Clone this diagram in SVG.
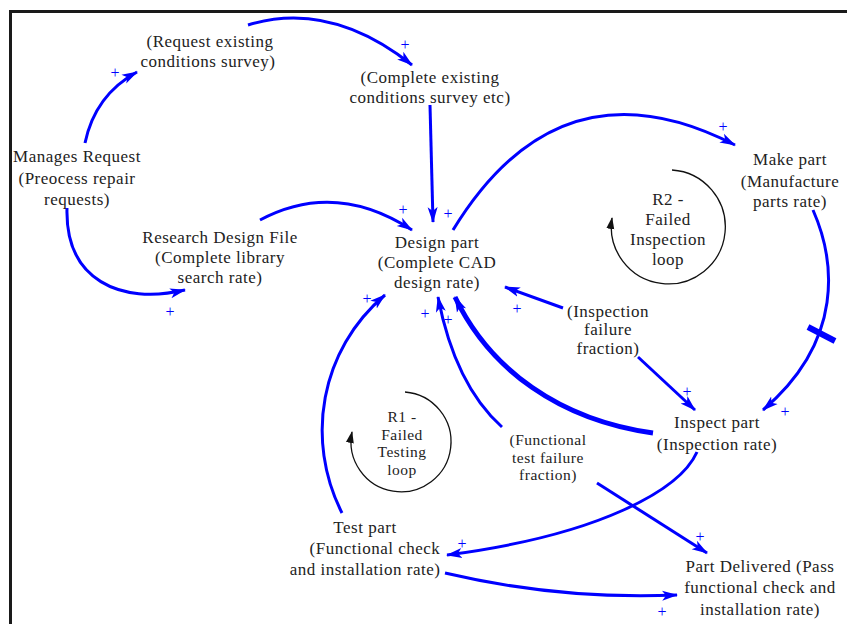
<svg xmlns="http://www.w3.org/2000/svg" width="847" height="624" viewBox="0 0 847 624">
<defs>
<marker id="ab" markerUnits="userSpaceOnUse" markerWidth="16" markerHeight="12" viewBox="0 0 16 12" refX="15" refY="6" orient="auto"><path d="M0,1 L16,6 L0,11 L4,6 Z" fill="#0000ff"/></marker>
<marker id="ak" markerUnits="userSpaceOnUse" markerWidth="12" markerHeight="10" viewBox="0 0 12 10" refX="11" refY="5" orient="auto"><path d="M0,1 L12,5 L0,9 Z" fill="#111"/></marker>
<style>
.t{font-size:17px;fill:#222;text-anchor:middle;letter-spacing:0.5px}
.sm{font-size:15.5px}
.s{font-size:16px;fill:#0000ff;text-anchor:middle}
.c{fill:none;stroke:#0000ff;stroke-width:3;marker-end:url(#ab)}
.l{fill:none;stroke:#111;stroke-width:1.3;marker-end:url(#ak)}
</style>
</defs>
<rect x="10.5" y="11.5" width="850" height="620" fill="#fff" stroke="#1a1a1a" stroke-width="3"/>
<g font-family="'Liberation Serif', 'DejaVu Serif', serif">
<g id="connectors">
<path class="c" d="M85,143 Q95,95 137,72"/>
<path class="c" d="M248,25 Q330,0 412,65"/>
<path class="c" d="M430,105 L433,222"/>
<path class="c" d="M67,208 C65,280 120,305 185,290"/>
<path class="c" d="M260,220 Q335,180 412,230"/>
<path class="c" d="M453,230 Q560,55 735,145"/>
<path class="c" d="M813,210 C835,260 845,340 763,410"/>
<path d="M808,327 L835,341" stroke="#0000ff" stroke-width="6"/>
<path class="c" d="M563,308 L505,287"/>
<path class="c" d="M638,357 L695,410"/>
<path class="c" style="stroke-width:5" d="M653,433 C560,420 490,370 455,297"/>
<path class="c" d="M502,427 Q455,385 438,297"/>
<path class="c" d="M342,513 C305,440 320,350 385,295"/>
<path class="c" d="M697,452 C680,490 600,535 447,555"/>
<path class="c" d="M597,483 L707,553"/>
<path class="c" d="M445,573 Q560,600 677,595"/>
<g id="signs">
<text class="s" x="115" y="78">+</text>
<text class="s" x="405" y="50">+</text>
<text class="s" x="448" y="219">+</text>
<text class="s" x="170" y="317">+</text>
<text class="s" x="403" y="215">+</text>
<text class="s" x="723" y="132">+</text>
<text class="s" x="785" y="417">+</text>
<text class="s" x="517" y="314">+</text>
<text class="s" x="687" y="397">+</text>
<text class="s" x="448" y="325">+</text>
<text class="s" x="425" y="319">+</text>
<text class="s" x="367" y="304">+</text>
<text class="s" x="462" y="549">+</text>
<text class="s" x="700" y="542">+</text>
<text class="s" x="662" y="617">+</text>
</g>
</g>
<g id="request-survey"><text class="t" x="210" y="47">(Request existing</text><text class="t" x="208" y="67">conditions survey)</text></g>
<g id="complete-survey"><text class="t" x="430" y="83">(Complete existing</text><text class="t" x="430" y="103">conditions survey etc)</text></g>
<g id="manages-request"><text class="t" x="77" y="162">Manages Request</text><text class="t" x="77" y="184">(Preocess repair</text><text class="t" x="77" y="205">requests)</text></g>
<g id="research-design"><text class="t" x="220" y="243">Research Design File</text><text class="t" x="220" y="263">(Complete library</text><text class="t" x="220" y="283">search rate)</text></g>
<g id="design-part"><text class="t" x="437" y="248">Design part</text><text class="t" x="437" y="268">(Complete CAD</text><text class="t" x="437" y="288">design rate)</text></g>
<g id="make-part"><text class="t" x="790" y="165">Make part</text><text class="t" x="790" y="187">(Manufacture</text><text class="t" x="790" y="207">parts rate)</text></g>
<g id="r2-loop"><path class="l" d="M672,170 A57,57 0 1,1 612,218"/><text class="t" x="668" y="205">R2 -</text><text class="t" x="668" y="225">Failed</text><text class="t" x="668" y="245">Inspection</text><text class="t" x="668" y="265">loop</text></g>
<g id="r1-loop"><path class="l" d="M405,392 A50,50 0 1,1 352,432"/><text class="t sm" x="402" y="422">R1 -</text><text class="t sm" x="402" y="440">Failed</text><text class="t sm" x="402" y="457">Testing</text><text class="t sm" x="402" y="475">loop</text></g>
<g id="inspection-failure"><text class="t" x="608" y="317">(Inspection</text><text class="t" x="608" y="335">failure</text><text class="t" x="608" y="354">fraction)</text></g>
<g id="functional-failure"><text class="t sm" x="548" y="445">(Functional</text><text class="t sm" x="548" y="463">test failure</text><text class="t sm" x="548" y="480">fraction)</text></g>
<g id="inspect-part"><text class="t" x="717" y="428">Inspect part</text><text class="t" x="717" y="450">(Inspection rate)</text></g>
<g id="test-part"><text class="t" x="365" y="533">Test part</text><text class="t" x="375" y="554">(Functional check</text><text class="t" x="365" y="575">and installation rate)</text></g>
<g id="part-delivered"><text class="t" x="760" y="572">Part Delivered (Pass</text><text class="t" x="760" y="593">functional check and</text><text class="t" x="760" y="615">installation rate)</text></g>
</g>
</svg>
